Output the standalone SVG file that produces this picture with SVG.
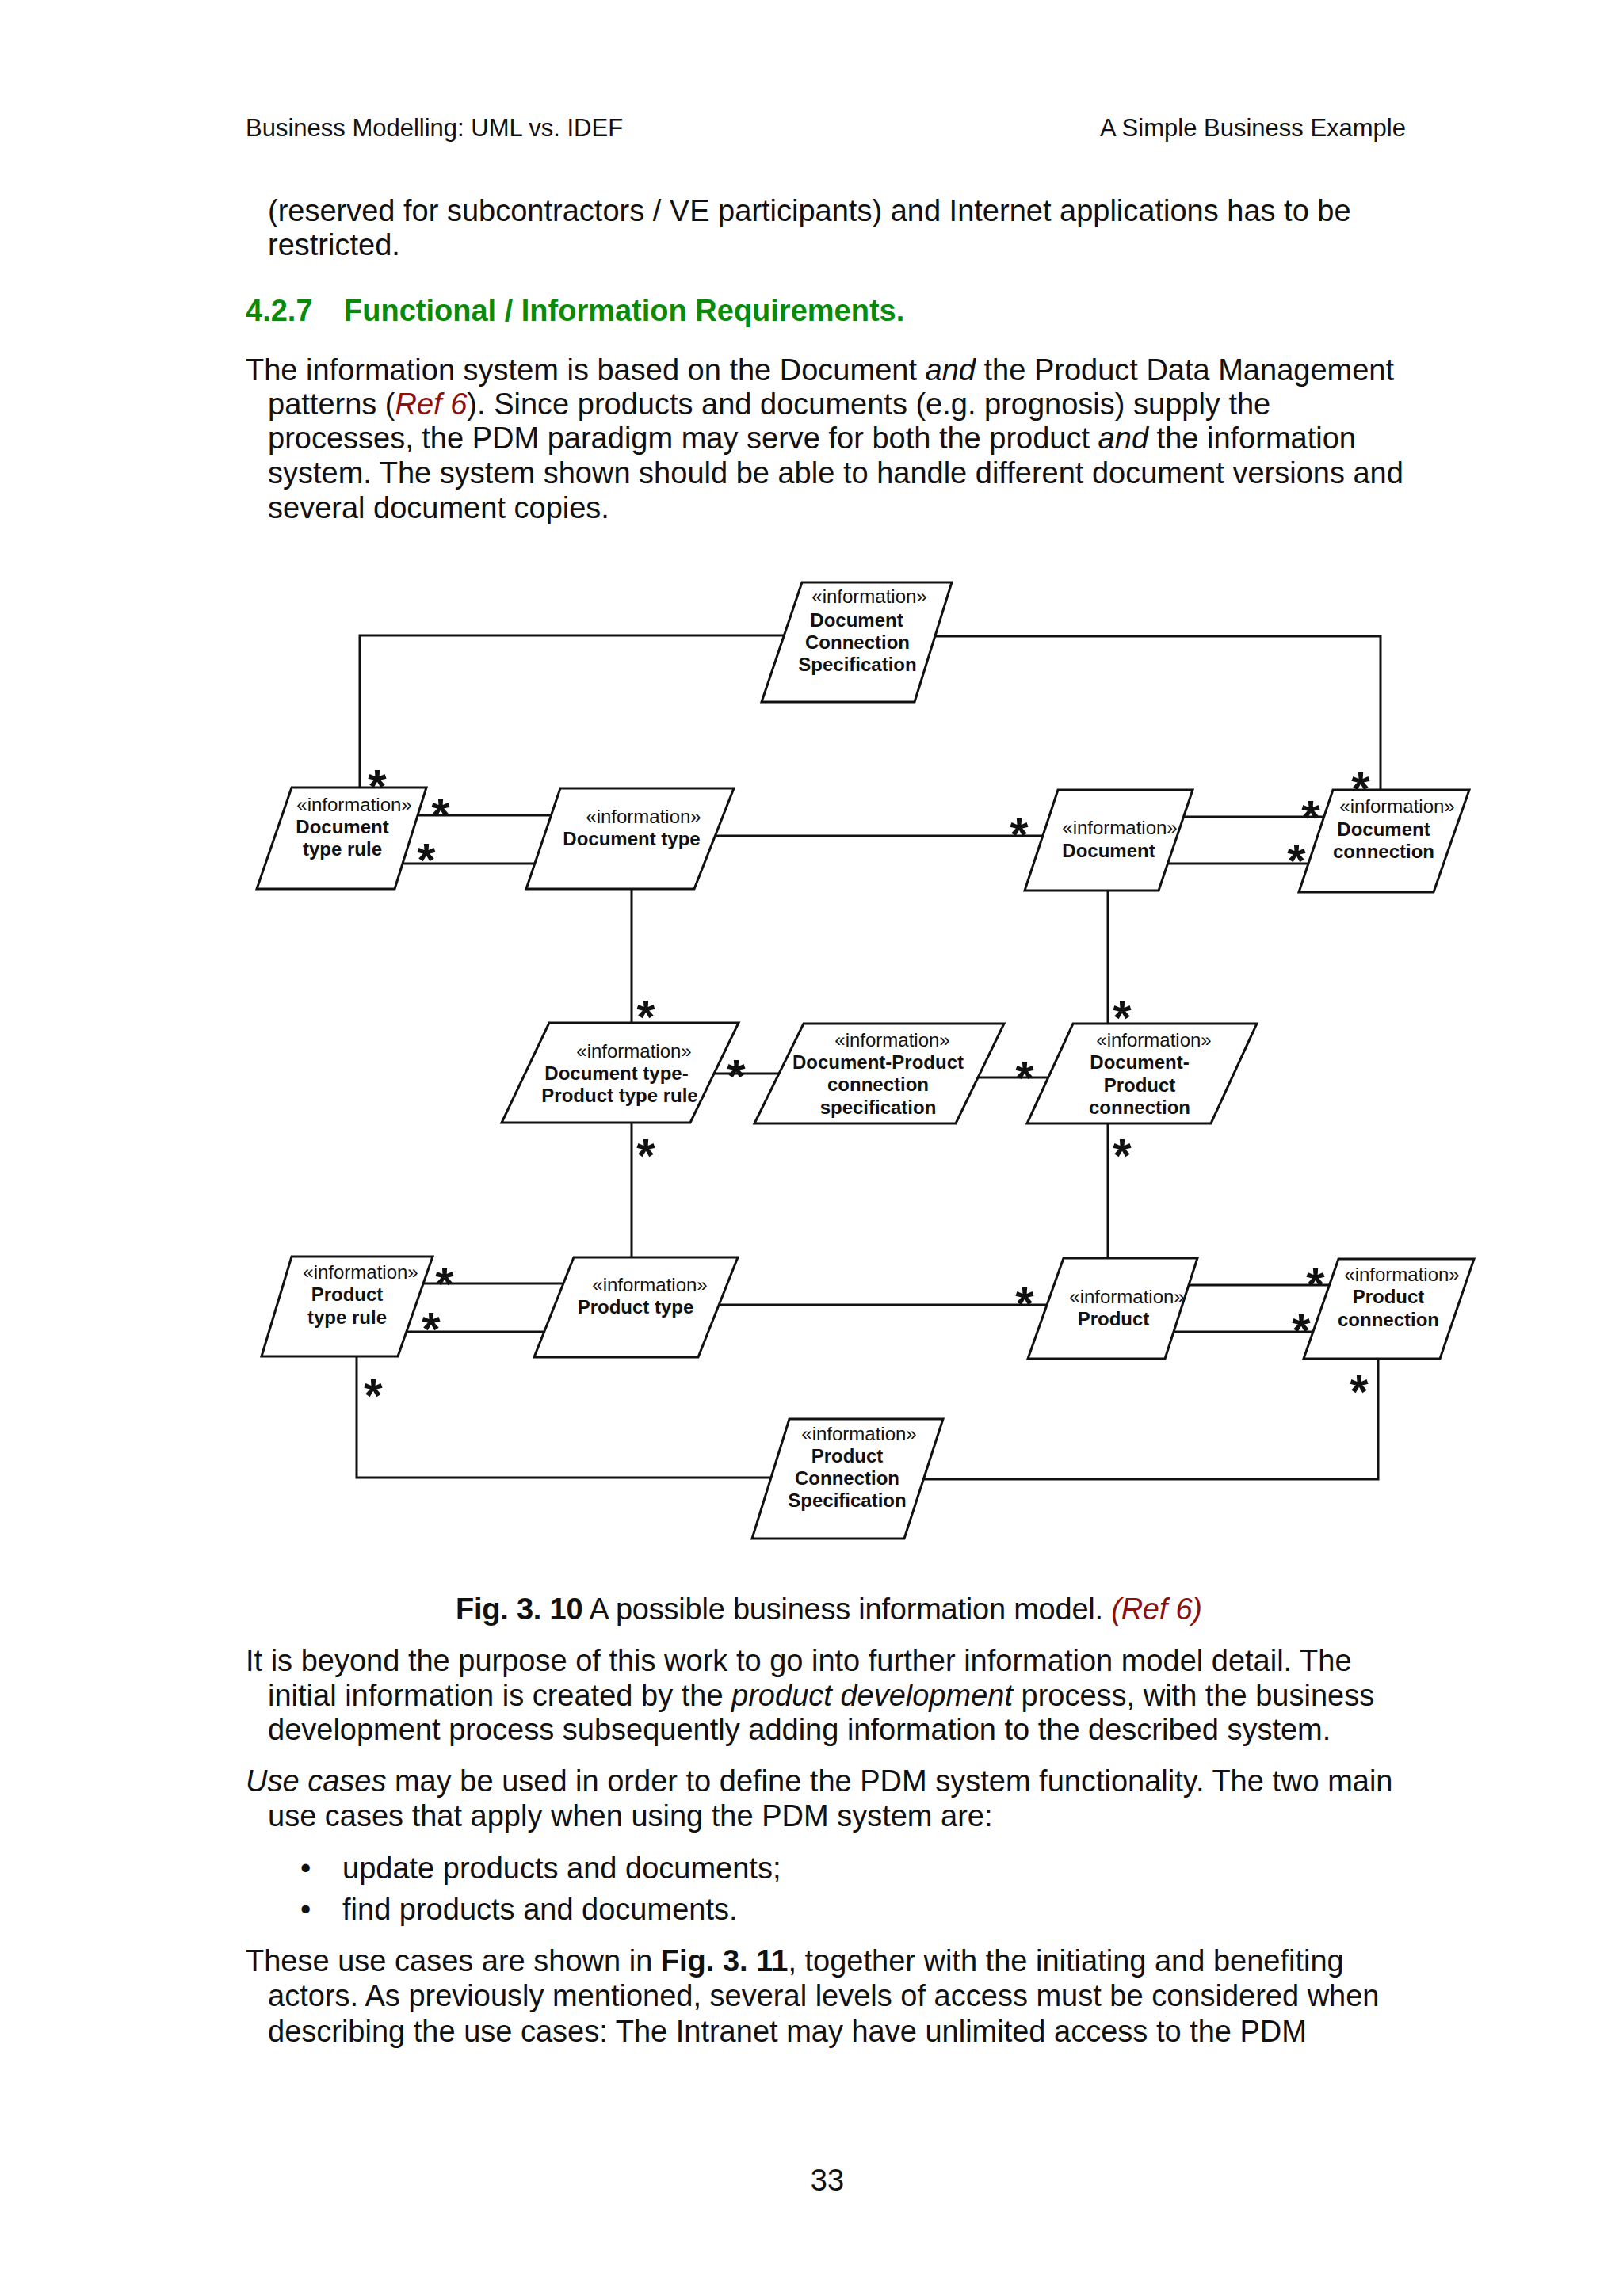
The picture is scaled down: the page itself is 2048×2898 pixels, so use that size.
<svg xmlns="http://www.w3.org/2000/svg" width="2048" height="2898" viewBox="0 0 2048 2898">
<style>
.hdr{font-family:"Liberation Sans",Arial,sans-serif;font-size:31px;fill:#111}
.body{font-family:"Liberation Sans",Arial,sans-serif;font-size:38px;fill:#111}
.head{font-family:"Liberation Sans",Arial,sans-serif;font-size:38px;font-weight:bold;fill:#0a8a0a}
.ref{fill:#8b1010;font-style:italic}
.it{font-style:italic}
.b{font-weight:bold}
.box{fill:#fff;stroke:#111;stroke-width:3;stroke-linejoin:miter}
.st{font-family:"Liberation Sans",Arial,sans-serif;font-size:24px;fill:#111;text-anchor:middle}
.nm{font-family:"Liberation Sans",Arial,sans-serif;font-size:24px;font-weight:bold;fill:#111;text-anchor:middle}
.conn{fill:none;stroke:#111;stroke-width:3}
.star{font-family:"Liberation Sans",Arial,sans-serif;font-size:60px;font-weight:bold;fill:#111;text-anchor:middle}
</style>
<rect width="2048" height="2898" fill="#fff"/>

<g id="page-text">
<text class="hdr" x="310" y="172">Business Modelling: UML vs. IDEF</text>
<text class="hdr" x="1774" y="172" text-anchor="end">A Simple Business Example</text>
<text class="body" x="338" y="279">(reserved for subcontractors / VE participants) and Internet applications has to be</text>
<text class="body" x="338" y="322">restricted.</text>
<text class="head" x="310" y="405">4.2.7</text>
<text class="head" x="434" y="405">Functional / Information Requirements.</text>
<text class="body" x="310" y="480">The information system is based on the Document <tspan class="it">and</tspan>  the Product Data Management</text>
<text class="body" x="338" y="523">patterns (<tspan class="ref">Ref 6</tspan>). Since products and documents (e.g. prognosis) supply the</text>
<text class="body" x="338" y="566">processes, the PDM paradigm may serve for both the product <tspan class="it">and</tspan> the information</text>
<text class="body" x="338" y="610">system. The system shown should be able to handle different document versions and</text>
<text class="body" x="338" y="654">several document copies.</text>

<text class="body" x="575" y="2044" textLength="942"><tspan class="b">Fig. 3. 10</tspan> A possible business information model. <tspan class="ref">(Ref 6)</tspan></text>
<text class="body" x="310" y="2109">It is beyond the purpose of this work to go into further information model detail. The</text>
<text class="body" x="338" y="2153">initial information is created by the <tspan class="it">product development</tspan> process, with the business</text>
<text class="body" x="338" y="2196">development process subsequently adding information to the described system.</text>
<text class="body" x="310" y="2261"><tspan class="it">Use cases</tspan> may be used in order to define the PDM system functionality. The two main</text>
<text class="body" x="338" y="2305">use cases that apply when using the PDM system are:</text>
<text class="body" x="379" y="2371">•</text>
<text class="body" x="432" y="2371">update products and documents;</text>
<text class="body" x="379" y="2423">•</text>
<text class="body" x="432" y="2423">find products and documents.</text>
<text class="body" x="310" y="2488">These use cases are shown in <tspan class="b">Fig. 3. 11</tspan>, together with the initiating and benefiting</text>
<text class="body" x="338" y="2532">actors. As previously mentioned, several levels of access must be considered when</text>
<text class="body" x="338" y="2577">describing the use cases: The Intranet may have unlimited access to the PDM</text>
<text class="body" x="1044" y="2765" text-anchor="middle">33</text>
</g>

<g id="connectors">
<polyline class="conn" points="989,802 454,802 454,994"/>
<polyline class="conn" points="1180,803 1742,803 1742,997"/>
<line class="conn" x1="527" y1="1029" x2="696" y2="1029"/>
<line class="conn" x1="508" y1="1090" x2="675" y2="1090"/>
<line class="conn" x1="902" y1="1055" x2="1316" y2="1055"/>
<line class="conn" x1="1494" y1="1031" x2="1671" y2="1031"/>
<line class="conn" x1="1474" y1="1090" x2="1651" y2="1090"/>
<line class="conn" x1="797" y1="1122" x2="797" y2="1291"/>
<line class="conn" x1="1398" y1="1124" x2="1398" y2="1292"/>
<line class="conn" x1="901" y1="1355" x2="983" y2="1355"/>
<line class="conn" x1="1234" y1="1360" x2="1323" y2="1360"/>
<line class="conn" x1="797" y1="1417" x2="797" y2="1587"/>
<line class="conn" x1="1398" y1="1418" x2="1398" y2="1588"/>
<line class="conn" x1="534" y1="1620" x2="711" y2="1620"/>
<line class="conn" x1="513" y1="1681" x2="687" y2="1681"/>
<line class="conn" x1="907" y1="1647" x2="1321" y2="1647"/>
<line class="conn" x1="1500" y1="1622" x2="1678" y2="1622"/>
<line class="conn" x1="1481" y1="1681" x2="1657" y2="1681"/>
<polyline class="conn" points="450,1712 450,1865 973,1865"/>
<polyline class="conn" points="1739,1715 1739,1867 1165,1867"/>
</g>

<g id="multiplicities">
<text class="star" x="476" y="1013">*</text>
<text class="star" x="556" y="1049">*</text>
<text class="star" x="538" y="1106">*</text>
<text class="star" x="1286" y="1074">*</text>
<text class="star" x="1654" y="1052">*</text>
<text class="star" x="1636" y="1107">*</text>
<text class="star" x="1717" y="1016">*</text>
<text class="star" x="815" y="1304">*</text>
<text class="star" x="1416" y="1305">*</text>
<text class="star" x="929" y="1379">*</text>
<text class="star" x="1293" y="1381">*</text>
<text class="star" x="815" y="1479">*</text>
<text class="star" x="1416" y="1479">*</text>
<text class="star" x="561" y="1641">*</text>
<text class="star" x="544" y="1698">*</text>
<text class="star" x="471" y="1782">*</text>
<text class="star" x="1293" y="1666">*</text>
<text class="star" x="1660" y="1642">*</text>
<text class="star" x="1642" y="1700">*</text>
<text class="star" x="1715" y="1777">*</text>
</g>

<g id="doc-connection-spec">
<polygon class="box" points="1012,735 1201,735 1154,886 961,886"/>
<text class="st" x="1097" y="761">«information»</text>
<text class="nm" x="1081" y="791">Document</text>
<text class="nm" x="1082" y="819">Connection</text>
<text class="nm" x="1082" y="847">Specification</text>
</g>

<g id="document-type-rule">
<polygon class="box" points="368,994 538,994 498,1122 324,1122"/>
<text class="st" x="447" y="1024">«information»</text>
<text class="nm" x="432" y="1052">Document</text>
<text class="nm" x="432" y="1080">type rule</text>
</g>

<g id="document-type">
<polygon class="box" points="707,995 926,995 876,1122 664,1122"/>
<text class="st" x="812" y="1039">«information»</text>
<text class="nm" x="797" y="1067">Document type</text>
</g>

<g id="document">
<polygon class="box" points="1335,997 1505,997 1462,1124 1293,1124"/>
<text class="st" x="1413" y="1053">«information»</text>
<text class="nm" x="1399" y="1082">Document</text>
</g>

<g id="document-connection">
<polygon class="box" points="1682,997 1854,997 1809,1126 1639,1126"/>
<text class="st" x="1763" y="1026">«information»</text>
<text class="nm" x="1746" y="1055">Document</text>
<text class="nm" x="1746" y="1083">connection</text>
</g>

<g id="doctype-prodtype-rule">
<polygon class="box" points="693,1291 932,1291 871,1417 633,1417"/>
<text class="st" x="800" y="1335">«information»</text>
<text class="nm" x="778" y="1363">Document type-</text>
<text class="nm" x="782" y="1391">Product type rule</text>
</g>

<g id="doc-product-connection-spec">
<polygon class="box" points="1014,1292 1267,1292 1206,1418 952,1418"/>
<text class="st" x="1126" y="1321">«information»</text>
<text class="nm" x="1108" y="1349">Document-Product</text>
<text class="nm" x="1108" y="1377">connection</text>
<text class="nm" x="1108" y="1406">specification</text>
</g>

<g id="doc-product-connection">
<polygon class="box" points="1354,1292 1586,1292 1528,1418 1296,1418"/>
<text class="st" x="1456" y="1321">«information»</text>
<text class="nm" x="1438" y="1349">Document-</text>
<text class="nm" x="1438" y="1378">Product</text>
<text class="nm" x="1438" y="1406">connection</text>
</g>

<g id="product-type-rule">
<polygon class="box" points="368,1586 546,1586 502,1712 330,1712"/>
<text class="st" x="455" y="1614">«information»</text>
<text class="nm" x="438" y="1642">Product</text>
<text class="nm" x="438" y="1671">type rule</text>
</g>

<g id="product-type">
<polygon class="box" points="724,1587 931,1587 881,1713 674,1713"/>
<text class="st" x="820" y="1630">«information»</text>
<text class="nm" x="802" y="1658">Product type</text>
</g>

<g id="product">
<polygon class="box" points="1342,1588 1511,1588 1470,1715 1297,1715"/>
<text class="st" x="1422" y="1645">«information»</text>
<text class="nm" x="1405" y="1673">Product</text>
</g>

<g id="product-connection">
<polygon class="box" points="1689,1589 1860,1589 1817,1715 1645,1715"/>
<text class="st" x="1769" y="1617">«information»</text>
<text class="nm" x="1752" y="1645">Product</text>
<text class="nm" x="1752" y="1674">connection</text>
</g>

<g id="product-connection-spec">
<polygon class="box" points="996,1791 1190,1791 1141,1942 949,1942"/>
<text class="st" x="1084" y="1818">«information»</text>
<text class="nm" x="1069" y="1846">Product</text>
<text class="nm" x="1069" y="1874">Connection</text>
<text class="nm" x="1069" y="1902">Specification</text>
</g>
</svg>
